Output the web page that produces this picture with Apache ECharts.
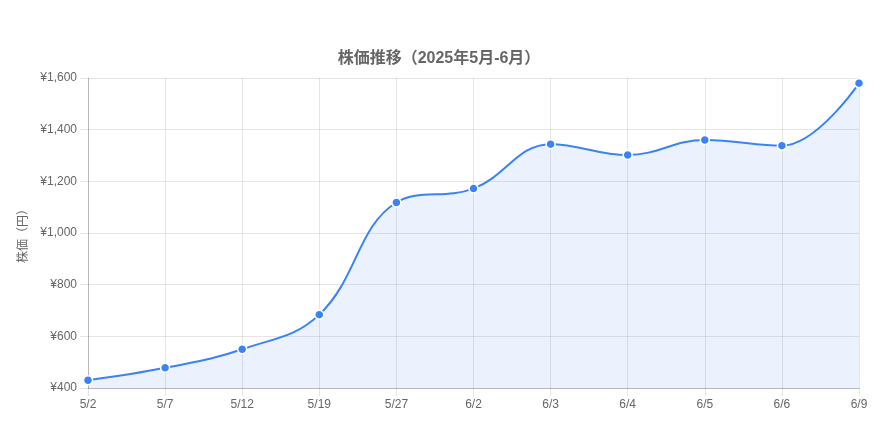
<!DOCTYPE html>
<html><head><meta charset="utf-8">
<script src="https://cdn.jsdelivr.net/npm/echarts@6/dist/echarts.min.js"></script>
<style>html,body{margin:0;padding:0;background:#fff}#c{width:878px;height:421px}</style>
</head><body><div id="c"></div>
<script>
const categories = ['5/2','5/7','5/12','5/19','5/27','6/2','6/3','6/4','6/5','6/6','6/9'];
const prices = [430, 478, 550, 684, 1118, 1172, 1344, 1302, 1360, 1338, 1580];
const titleText = '株価推移（2025年5月-6月）';
const yAxisName = '株価（円）';

const font = '"Liberation Sans", "Noto Sans CJK JP", sans-serif';
const chart = echarts.init(document.getElementById('c'));
chart.setOption({
  animation: false,
  title: {
    text: titleText, left: 'center', top: 46,
    textStyle: {color: '#666', fontSize: 16, fontWeight: 'bold', fontFamily: font}
  },
  grid: {left: 88, right: 19, top: 78, bottom: 33},
  xAxis: {
    type: 'category', data: categories, boundaryGap: false,
    axisLine: {show: true, lineStyle: {color: 'rgba(0,0,0,0.2)'}},
    axisTick: {show: true, length: 8, lineStyle: {color: 'rgba(0,0,0,0.1)'}},
    axisLabel: {color: '#666', fontSize: 12, fontFamily: font, margin: 11},
    splitLine: {show: true, lineStyle: {color: 'rgba(0,0,0,0.1)'}}
  },
  yAxis: {
    type: 'value', min: 400, max: 1600, interval: 200,
    name: yAxisName, nameLocation: 'middle', nameGap: 48, nameRotate: 90,
    nameTextStyle: {color: '#666', fontSize: 12, fontFamily: font},
    axisLine: {show: true, lineStyle: {color: 'rgba(0,0,0,0.2)'}},
    axisTick: {show: true, length: 8, lineStyle: {color: 'rgba(0,0,0,0.1)'}},
    axisLabel: {color: '#666', fontSize: 12, fontFamily: font, margin: 11,
      formatter: v => '¥' + v.toLocaleString('en-US')},
    splitLine: {show: true, lineStyle: {color: 'rgba(0,0,0,0.1)'}}
  },
  series: [{
    type: 'line', data: prices, smooth: 0.4,
    symbol: 'circle', symbolSize: 9,
    lineStyle: {color: '#3b82f6', width: 2},
    itemStyle: {color: '#3b82f6', borderColor: '#fff', borderWidth: 1.5},
    areaStyle: {color: 'rgba(59,130,246,0.1)', opacity: 1}
  }]
});
</script></body></html>
